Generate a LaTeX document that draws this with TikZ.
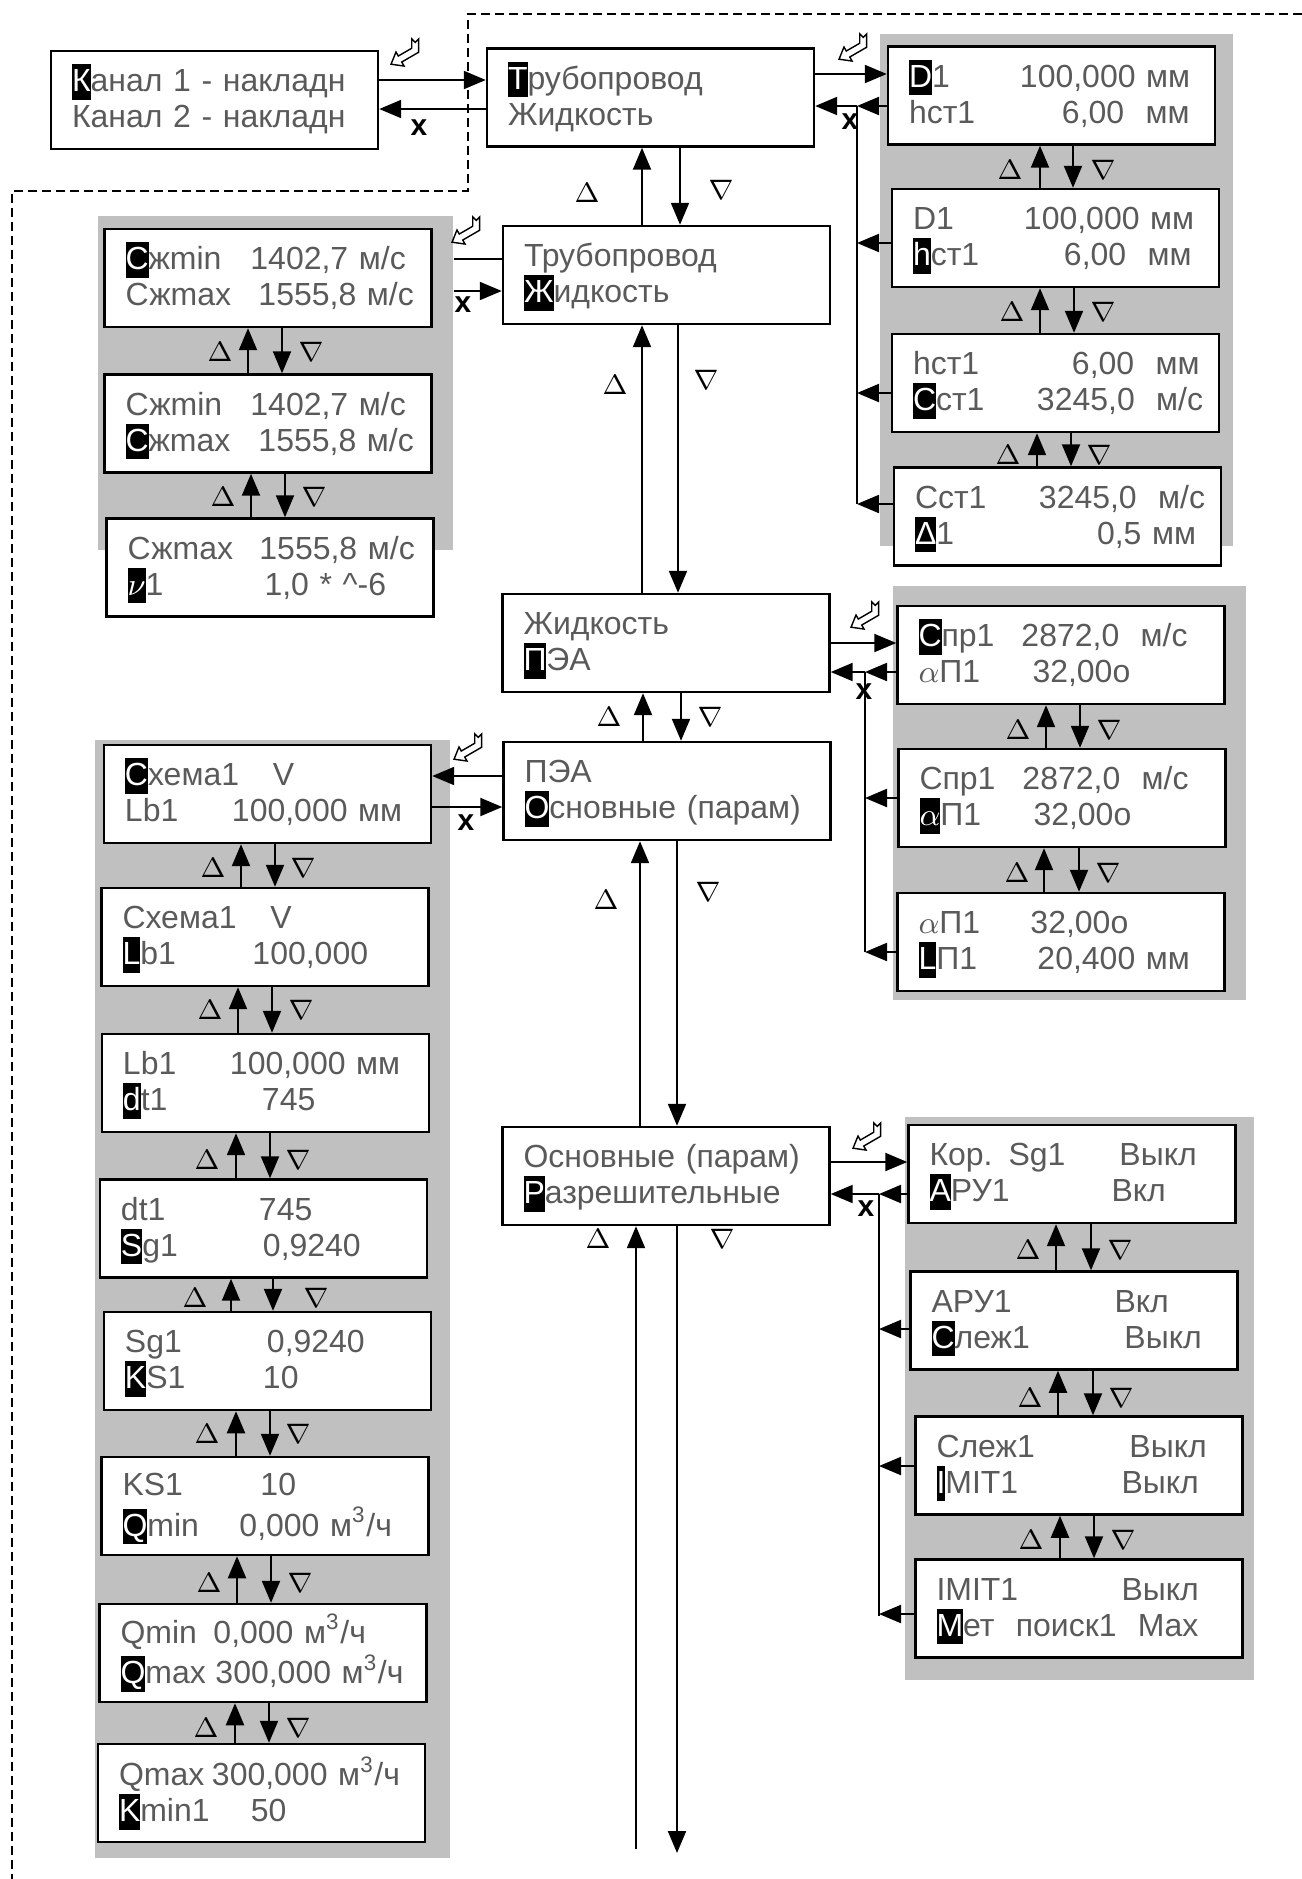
\documentclass[tikz,border=0pt]{standalone}
\usepackage{fontspec}
\setmainfont{Liberation Sans}
\usepackage{xcolor}
\usetikzlibrary{arrows.meta}

\definecolor{lcdtext}{RGB}{90,90,90}
\definecolor{panelgray}{RGB}{192,192,192}
\newcommand{\lcdstrut}{\rule[-0.08cm]{0pt}{0.355cm}}
\newcommand{\cur}[1]{{\setlength{\fboxsep}{0pt}\colorbox{black}{\textcolor{white}{\lcdstrut#1}}}}
\newcommand{\pv}[3]{\makebox[#1cm][l]{#2}#3}
\newcommand{\lcd}[2]{\mbox{\lcdstrut#1}\\\mbox{#2\lcdstrut}}

\begin{document}
\begin{tikzpicture}[
    scr/.style={draw,line width=0.7pt,fill=white,text=lcdtext,minimum width=3.27cm,minimum height=0.98cm,text width=2.85cm,inner xsep=0.21cm,inner ysep=0pt,align=left,font=\fontsize{9.1}{10.25}\selectfont},
    panel/.style={fill=panelgray,inner sep=0},
    arr/.style={-{Triangle[length=2.2mm,width=1.8mm]},line width=0.6pt},
    bus/.style={line width=0.6pt},
    navlbl/.style={font=\fontsize{8}{9}\selectfont,inner sep=0},
    escmark/.style={font=\fontsize{8.5}{9}\selectfont\bfseries,inner sep=0},
    dashline/.style={dash pattern=on 0.09cm off 0.05cm,line width=0.45pt},
    enterkey/.pic={\draw[line width=0.4pt,fill=white,x=0.0115cm,y=0.0115cm] (-13,-8) -- (-1.7,-9.6) -- (-3.7,-6.1) -- (11,2.4) -- (11,14) -- (8,11) -- (5,14) -- (5,5.9) -- (-6.7,-0.9) -- (-8.7,2.6) -- cycle;}
]
    \useasboundingbox (0,0) rectangle (13.02,-18.79);
    % Frame of the channel level
    \draw[dashline] (13.02,-0.14) -- (4.68,-0.14) -- (4.68,-1.91) -- (0.12,-1.91) -- (0.12,-18.79);
    % Gray groups
    \node[panel,minimum width=3.55cm,minimum height=3.34cm] (grayC) at (2.755,-3.83) {};
    \node[panel,minimum width=3.53cm,minimum height=5.12cm] (grayD) at (10.565,-2.90) {};
    \node[panel,minimum width=3.53cm,minimum height=4.14cm] (grayP) at (10.695,-7.93) {};
    \node[panel,minimum width=3.55cm,minimum height=11.18cm] (grayS) at (2.725,-12.99) {};
    \node[panel,minimum width=3.49cm,minimum height=5.63cm] (grayR) at (10.795,-13.985) {};
    % Main column
    \node[scr] (kanal) at (2.145,-1.00) {\lcd{\cur{К}анал 1 - накладн}{Канал 2 - накладн}};
    \node[scr] (truba) at (6.505,-0.975) {\lcd{\cur{Т}рубопровод}{Жидкость}};
    \node[scr] (truba2) at (6.665,-2.75) {\lcd{Трубопровод}{\cur{Ж}идкость}};
    \node[scr] (zhid) at (6.66,-6.43) {\lcd{Жидкость}{\cur{П}ЭА}};
    \node[scr] (pea) at (6.67,-7.91) {\lcd{ПЭА}{\cur{О}сновные (парам)}};
    \node[scr] (osn) at (6.66,-11.76) {\lcd{Основные (парам)}{\cur{Р}азрешительные}};
    % Pipe group
    \node[scr] (d1) at (10.515,-0.955) {\lcd{\pv{1.11}{\cur{D}1}{100,000 мм}}{\pv{1.53}{hст1}{6,00\ \ мм}}};
    \node[scr] (d2) at (10.555,-2.38) {\lcd{\pv{1.11}{D1}{100,000 мм}}{\pv{1.51}{\cur{h}ст1}{6,00\ \ мм}}};
    \node[scr] (d3) at (10.555,-3.83) {\lcd{\pv{1.59}{hст1}{6,00\ \ мм}}{\pv{1.24}{\cur{С}ст1}{3245,0\ \ м/с}}};
    \node[scr] (d4) at (10.575,-5.165) {\lcd{\pv{1.24}{Сст1}{3245,0\ \ м/с}}{\pv{1.82}{\cur{Δ}1}{0,5 мм}}};
    % Liquid group
    \node[scr] (c1) at (2.68,-2.78) {\lcd{\pv{1.25}{\cur{С}жmin}{1402,7 м/с}}{\pv{1.33}{Сжmax}{1555,8 м/с}}};
    \node[scr] (c2) at (2.68,-4.235) {\lcd{\pv{1.25}{Сжmin}{1402,7 м/с}}{\pv{1.33}{\cur{С}жmax}{1555,8 м/с}}};
    \node[scr] (c3) at (2.70,-5.675) {\lcd{\pv{1.32}{Сжmax}{1555,8 м/с}}{\pv{1.37}{\cur{$\nu$}1}{1,0 * \textasciicircum-6}}};
    % Transducer group
    \node[scr] (p1) at (10.61,-6.55) {\lcd{\pv{1.03}{\cur{С}пр1}{2872,0\ \ м/с}}{\pv{1.14}{$\alpha$П1}{32,00o}}};
    \node[scr] (p2) at (10.62,-7.98) {\lcd{\pv{1.03}{Спр1}{2872,0\ \ м/с}}{\pv{1.14}{\cur{$\alpha$}П1}{32,00o}}};
    \node[scr] (p3) at (10.61,-9.42) {\lcd{\pv{1.12}{$\alpha$П1}{32,00o}}{\pv{1.19}{\cur{L}П1}{20,400 мм}}};
    % Main parameters group
    \node[scr] (s1) at (2.675,-7.94) {\lcd{\pv{1.48}{\cur{С}хема1}{V}}{\pv{1.07}{Lb1}{100,000 мм}}};
    \node[scr] (s2) at (2.65,-9.37) {\lcd{\pv{1.48}{Схема1}{V}}{\pv{1.30}{\cur{L}b1}{100,000}}};
    \node[scr] (s3) at (2.655,-10.83) {\lcd{\pv{1.07}{Lb1}{100,000 мм}}{\pv{1.39}{\cur{d}t1}{745}}};
    \node[scr] (s4) at (2.635,-12.285) {\lcd{\pv{1.38}{dt1}{745}}{\pv{1.42}{\cur{S}g1}{0,9240}}};
    \node[scr] (s5) at (2.675,-13.61) {\lcd{\pv{1.42}{Sg1}{0,9240}}{\pv{1.38}{\cur{K}S1}{10}}};
    \node[scr] (s6) at (2.65,-15.06) {\lcd{\pv{1.38}{KS1}{10}}{\pv{1.17}{\cur{Q}min}{0,000 м\textsuperscript{3}/ч}}};
    \node[scr] (s7) at (2.63,-16.53) {\lcd{\pv{0.93}{Qmin}{0,000 м\textsuperscript{3}/ч}}{\pv{0.95}{\cur{Q}max}{300,000 м\textsuperscript{3}/ч}}};
    \node[scr] (s8) at (2.615,-17.93) {\lcd{\pv{0.93}{Qmax}{300,000 м\textsuperscript{3}/ч}}{\pv{1.32}{\cur{K}min1}{50}}};
    % Permission group
    \node[scr] (r1) at (10.72,-11.74) {\lcd{\pv{1.90}{Кор. Sg1}{Выкл}}{\pv{1.82}{\cur{А}РУ1}{Вкл}}};
    \node[scr] (r2) at (10.74,-13.205) {\lcd{\pv{1.83}{АРУ1}{Вкл}}{\pv{1.93}{\cur{С}леж1}{Выкл}}};
    \node[scr] (r3) at (10.79,-14.655) {\lcd{\pv{1.93}{Слеж1}{Выкл}}{\pv{1.85}{\cur{I}MIT1}{Выкл}}};
    \node[scr] (r4) at (10.79,-16.085) {\lcd{\pv{1.85}{IMIT1}{Выкл}}{\cur{М}ет\ \ поиск1\ \ Max}};
    % Up / down moves
    \foreach \a/\b/\xu/\xd/\xl/\yl/\xr/\yr in {
        truba/truba2/6.42/6.80/5.87/1.93/7.21/1.90, truba2/zhid/6.42/6.78/6.15/3.85/7.06/3.80,
        zhid/pea/6.43/6.81/6.09/7.17/7.10/7.17, pea/osn/6.40/6.77/6.06/9.00/7.08/8.92,
        d1/d2/10.40/10.73/10.10/1.70/11.03/1.70, d2/d3/10.40/10.74/10.12/3.12/11.03/3.12,
        d3/d4/10.37/10.71/10.08/4.55/10.99/4.55,
        c1/c2/2.48/2.82/2.20/3.52/3.11/3.52, c2/c3/2.51/2.85/2.23/4.97/3.14/4.97,
        p1/p2/10.46/10.80/10.18/7.30/11.09/7.30, p2/p3/10.44/10.79/10.17/8.73/11.08/8.73,
        s1/s2/2.41/2.75/2.13/8.68/3.03/8.68, s2/s3/2.38/2.72/2.10/10.10/3.01/10.10,
        s3/s4/2.36/2.70/2.07/11.60/2.98/11.60, s4/s5/2.31/2.73/1.95/12.98/3.16/12.98,
        s5/s6/2.36/2.70/2.07/14.34/2.98/14.34, s6/s7/2.37/2.71/2.09/15.83/3.00/15.83,
        s7/s8/2.35/2.69/2.06/17.28/2.98/17.28,
        r1/r2/10.56/10.91/10.28/12.50/11.20/12.50, r2/r3/10.58/10.93/10.30/13.98/11.21/13.98,
        r3/r4/10.60/10.94/10.31/15.40/11.23/15.40} {
        \draw[arr] (\b.north -| \xu,0) -- (\a.south -| \xu,0);
        \draw[arr] (\a.south -| \xd,0) -- (\b.north -| \xd,0);
        \node[navlbl] (up\b) at (\xl,-\yl) {$\Delta$};
        \node[navlbl] (dn\b) at (\xr,-\yr) {$\nabla$};
    }
    \coordinate (endU) at (6.36,-18.49);
    \coordinate (endD) at (6.77,-18.53);
    \draw[arr] (endU) -- (endU |- osn.south);
    \draw[arr] (osn.south -| endD) -- (endD);
    \node[navlbl] (upEnd) at (5.98,-12.39) {$\Delta$};
    \node[navlbl] (dnEnd) at (7.22,-12.39) {$\nabla$};
    % Channel <-> pipe
    \draw[arr] ([yshift=2mm]kanal.east) -- ([yshift=2mm]kanal.east -| truba.west);
    \draw[arr] ([yshift=-0.9mm]kanal.east -| truba.west) -- ([yshift=-0.9mm]kanal.east);
    \pic at (4.06,-0.55) {enterkey};
    \node[escmark] (escK) at (4.19,-1.28) {x};
    % Pipe group links
    \coordinate (busD) at (8.57,-1.06);
    \coordinate (busDend) at (8.57,-5.04);
    \draw[arr] ([yshift=2.35mm]truba.east) -- ([yshift=2.35mm]truba.east -| d1.west);
    \draw[bus] (busD) -- (busDend);
    \draw[arr] (busD -| d1.west) -- (busD);
    \draw[arr] (busD) -- (busD -| truba.east);
    \foreach \b/\y in {d2/2.43, d3/3.93, d4/5.04}
        \draw[arr] (\b.west |- 0,-\y) -- (busD |- 0,-\y);
    \pic at (8.54,-0.50) {enterkey};
    \node[escmark] (escD) at (8.50,-1.22) {x};
    % Liquid group links
    \draw[bus] ([yshift=1.6mm]truba2.west) -- ([yshift=1.6mm]truba2.west -| grayC.east);
    \draw[arr] ([yshift=-1.6mm]truba2.west -| grayC.east) -- ([yshift=-1.6mm]truba2.west);
    \pic at (4.67,-2.33) {enterkey};
    \node[escmark] (escC) at (4.63,-3.05) {x};
    % Transducer group links
    \coordinate (busP) at (8.65,-6.72);
    \coordinate (busPend) at (8.65,-9.52);
    \draw[arr] (zhid.east) -- (zhid.east -| p1.west);
    \draw[bus] (busP) -- (busPend);
    \draw[arr] (busP -| p1.west) -- (busP);
    \draw[arr] (busP) -- (busP -| zhid.east);
    \foreach \b/\y in {p2/7.98, p3/9.52}
        \draw[arr] (\b.west |- 0,-\y) -- (busP |- 0,-\y);
    \pic at (8.66,-6.18) {enterkey};
    \node[escmark] (escP) at (8.64,-6.92) {x};
    % Main parameters group links
    \draw[arr] ([yshift=1.5mm]pea.west) -- ([yshift=1.5mm]pea.west -| s1.east);
    \draw[arr] ([yshift=-1.6mm]pea.west -| s1.east) -- ([yshift=-1.6mm]pea.west);
    \pic at (4.69,-7.50) {enterkey};
    \node[escmark] (escS) at (4.66,-8.23) {x};
    % Permission group links
    \coordinate (busR) at (8.79,-11.94);
    \coordinate (busRend) at (8.79,-16.16);
    \draw[arr] ([yshift=1.4mm]osn.east) -- ([yshift=1.4mm]osn.east -| r1.west);
    \draw[bus] (busR) -- (busRend);
    \draw[arr] (busR -| r1.west) -- (busR);
    \draw[arr] (busR) -- (busR -| osn.east);
    \foreach \b/\y in {r2/13.29, r3/14.66, r4/16.14}
        \draw[arr] (\b.west |- 0,-\y) -- (busR |- 0,-\y);
    \pic at (8.68,-11.39) {enterkey};
    \node[escmark] (escR) at (8.66,-12.09) {x};
\end{tikzpicture}
\end{document}
